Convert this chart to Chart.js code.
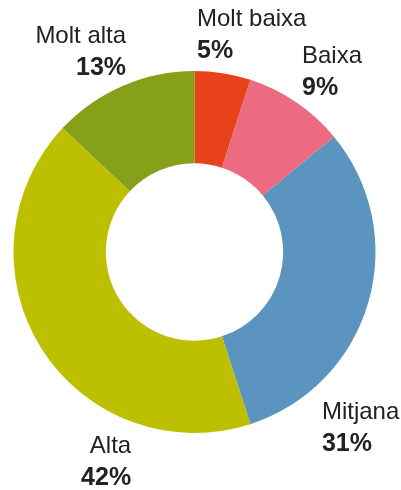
<!DOCTYPE html>
<html>
<head>
<meta charset="utf-8">
<script src="https://cdn.jsdelivr.net/npm/chart.js@4/dist/chart.umd.min.js"></script>
<style>
  html, body { margin: 0; padding: 0; background: #fff; }
  #wrap { width: 401px; height: 490px; }
</style>
</head>
<body>
<div id="wrap"><canvas id="donut"></canvas></div>
<script>
// Data
const categories = ['Molt baixa', 'Baixa', 'Mitjana', 'Alta', 'Molt alta'];
const values = [5, 9, 31, 42, 13];
const colors = ['#e8421a', '#ec6b80', '#5b94bf', '#bdc000', '#87a019'];

// where each label sits, relative to the doughnut centre (fraction of outer radius)
const labelPlace = [
    { dx: 0.014, dy: -1.25, align: 'left' },
    { dx: 0.594, dy: -1.045, align: 'left' },
    { dx: 0.704, dy: 0.922, align: 'left' },
    { dx: -0.35, dy: 1.11, align: 'right' },
    { dx: -0.378, dy: -1.155, align: 'right' }
];

const outsideLabels = {
    id: 'outsideLabels',
    afterDraw(chart) {
        const ctx = chart.ctx;
        const meta = chart.getDatasetMeta(0);
        meta.data.forEach((arc, i) => {
            const p = labelPlace[i];
            const x = arc.x + p.dx * arc.outerRadius;
            const y = arc.y + p.dy * arc.outerRadius;
            ctx.save();
            ctx.fillStyle = '#222';
            ctx.textAlign = p.align;
            ctx.textBaseline = 'alphabetic';
            ctx.font = '24px "Liberation Sans", Arial, sans-serif';
            ctx.fillText(categories[i], x, y);
            ctx.font = 'bold 25px "Liberation Sans", Arial, sans-serif';
            ctx.fillText(values[i] + '%', x, y + 32);
            ctx.restore();
        });
    }
};

new Chart(document.getElementById('donut'), {
    type: 'doughnut',
    data: {
        labels: categories,
        datasets: [{
            data: values,
            backgroundColor: colors,
            borderWidth: 0,
            hoverOffset: 0
        }]
    },
    options: {
        responsive: true,
        maintainAspectRatio: false,
        animation: false,
        cutout: '49%',
        layout: { padding: { left: 13.5, right: 25.5, top: 71, bottom: 57 } },
        plugins: {
            legend: { display: false },
            tooltip: { enabled: false }
        }
    },
    plugins: [outsideLabels]
});
</script>
</body>
</html>
